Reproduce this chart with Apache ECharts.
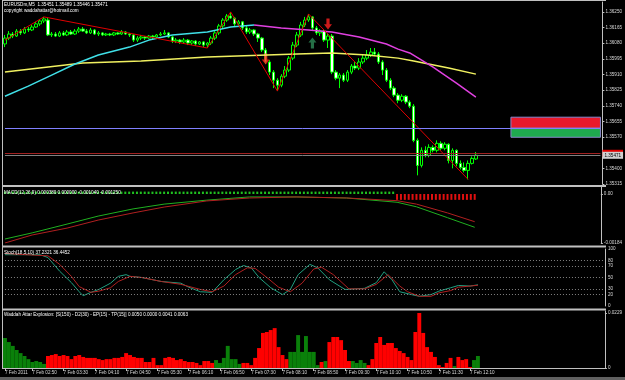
<!DOCTYPE html>
<html><head><meta charset="utf-8">
<script src="https://cdn.jsdelivr.net/npm/echarts@6/dist/echarts.min.js"></script>
<style>html,body{margin:0;padding:0;background:#000;}#c{width:625px;height:380px;}</style>
</head><body><div id="c"></div>
<script>
// ---------- DATA ----------
const timeLabelIndex = [0,7,15,23,31,39,47,55,63,71,79,87,95,103,111,119];
const timeLabelText = ['7 Feb 2011','7 Feb 02:50','7 Feb 03:30','7 Feb 04:10','7 Feb 04:50','7 Feb 05:30','7 Feb 06:10','7 Feb 06:50','7 Feb 07:30','7 Feb 08:10','7 Feb 08:50','7 Feb 09:30','7 Feb 10:10','7 Feb 10:50','7 Feb 11:30','7 Feb 12:10'];
// [open, close, low, high]
const candles = [
[1.36076,1.36108,1.36059,1.36125],[1.36108,1.36130,1.36097,1.36146],[1.36130,1.36119,1.36108,1.36141],[1.36119,1.36146,1.36114,1.36157],
[1.36146,1.36136,1.36125,1.36157],[1.36136,1.36157,1.36130,1.36168],[1.36157,1.36152,1.36141,1.36168],[1.36152,1.36168,1.36146,1.36179],
[1.36168,1.36185,1.36163,1.36196],[1.36185,1.36201,1.36174,1.36212],[1.36201,1.36212,1.36190,1.36223],[1.36206,1.36125,1.36119,1.36217],
[1.36125,1.36130,1.36114,1.36141],[1.36130,1.36119,1.36114,1.36141],[1.36119,1.36136,1.36114,1.36146],[1.36136,1.36125,1.36119,1.36146],
[1.36125,1.36141,1.36119,1.36152],[1.36141,1.36130,1.36125,1.36152],[1.36130,1.36146,1.36125,1.36157],[1.36146,1.36157,1.36136,1.36168],
[1.36157,1.36146,1.36141,1.36168],[1.36146,1.36136,1.36130,1.36157],[1.36136,1.36152,1.36130,1.36163],[1.36152,1.36130,1.36125,1.36157],
[1.36130,1.36136,1.36119,1.36146],[1.36136,1.36125,1.36119,1.36141],[1.36125,1.36130,1.36119,1.36136],[1.36130,1.36125,1.36119,1.36136],
[1.36125,1.36136,1.36119,1.36141],[1.36136,1.36130,1.36125,1.36141],[1.36130,1.36141,1.36125,1.36152],[1.36141,1.36130,1.36125,1.36146],
[1.36130,1.36125,1.36114,1.36136],[1.36125,1.36097,1.36087,1.36130],[1.36097,1.36108,1.36087,1.36119],[1.36108,1.36114,1.36097,1.36125],
[1.36114,1.36108,1.36097,1.36119],[1.36108,1.36119,1.36103,1.36125],[1.36119,1.36114,1.36103,1.36125],[1.36114,1.36125,1.36108,1.36130],
[1.36125,1.36130,1.36119,1.36141],[1.36130,1.36136,1.36125,1.36152],[1.36136,1.36114,1.36108,1.36141],[1.36114,1.36092,1.36081,1.36119],
[1.36092,1.36097,1.36081,1.36108],[1.36097,1.36087,1.36076,1.36103],[1.36087,1.36097,1.36076,1.36108],[1.36097,1.36081,1.36070,1.36103],
[1.36081,1.36092,1.36070,1.36097],[1.36092,1.36076,1.36065,1.36097],[1.36076,1.36087,1.36070,1.36092],[1.36087,1.36070,1.36059,1.36092],
[1.36070,1.36081,1.36054,1.36087],[1.36081,1.36108,1.36070,1.36119],[1.36108,1.36136,1.36097,1.36146],[1.36136,1.36174,1.36125,1.36185],
[1.36174,1.36206,1.36163,1.36217],[1.36206,1.36228,1.36196,1.36239],[1.36228,1.36217,1.36212,1.36250],[1.36217,1.36185,1.36174,1.36223],
[1.36185,1.36196,1.36168,1.36206],[1.36196,1.36163,1.36152,1.36201],[1.36163,1.36141,1.36130,1.36174],[1.36141,1.36152,1.36130,1.36163],
[1.36152,1.36130,1.36119,1.36157],[1.36130,1.36108,1.36087,1.36136],[1.36108,1.36043,1.36032,1.36114],[1.36043,1.35978,1.35967,1.36054],
[1.35978,1.35923,1.35907,1.35988],[1.35923,1.35879,1.35836,1.35934],[1.35879,1.35852,1.35820,1.35890],[1.35852,1.35901,1.35841,1.35912],
[1.35901,1.35934,1.35890,1.35956],[1.35934,1.35999,1.35923,1.36010],[1.35999,1.36070,1.35988,1.36087],[1.36070,1.36125,1.36059,1.36141],
[1.36125,1.36179,1.36114,1.36196],[1.36179,1.36206,1.36168,1.36223],[1.36206,1.36223,1.36196,1.36239],[1.36223,1.36163,1.36152,1.36228],
[1.36163,1.36136,1.36125,1.36174],[1.36136,1.36146,1.36119,1.36157],[1.36146,1.36097,1.36087,1.36152],[1.36097,1.36119,1.36054,1.36130],
[1.36119,1.35923,1.35912,1.36130],[1.35923,1.35890,1.35879,1.35934],[1.35890,1.35907,1.35836,1.35918],[1.35907,1.35879,1.35869,1.35918],
[1.35879,1.35923,1.35869,1.35934],[1.35923,1.35956,1.35912,1.35967],[1.35956,1.35945,1.35934,1.35978],[1.35945,1.35978,1.35934,1.35999],
[1.35978,1.35999,1.35967,1.36016],[1.35999,1.36016,1.35988,1.36043],[1.36016,1.36032,1.36005,1.36054],[1.36032,1.36021,1.36010,1.36054],
[1.36021,1.35978,1.35967,1.36032],[1.35978,1.35934,1.35907,1.35988],[1.35934,1.35879,1.35869,1.35945],[1.35879,1.35836,1.35825,1.35890],
[1.35836,1.35798,1.35787,1.35847],[1.35798,1.35770,1.35754,1.35809],[1.35770,1.35792,1.35760,1.35803],[1.35792,1.35760,1.35749,1.35798],
[1.35760,1.35738,1.35727,1.35770],[1.35738,1.35552,1.35542,1.35749],[1.35552,1.35416,1.35362,1.35563],[1.35416,1.35498,1.35405,1.35514],
[1.35498,1.35471,1.35460,1.35520],[1.35471,1.35514,1.35460,1.35531],[1.35514,1.35498,1.35487,1.35525],[1.35498,1.35536,1.35487,1.35552],
[1.35536,1.35509,1.35498,1.35547],[1.35509,1.35531,1.35498,1.35542],[1.35531,1.35443,1.35427,1.35536],[1.35443,1.35498,1.35400,1.35509],
[1.35498,1.35427,1.35411,1.35503],[1.35427,1.35405,1.35394,1.35443],[1.35405,1.35389,1.35378,1.35432],[1.35389,1.35427,1.35340,1.35443],
[1.35427,1.35454,1.35421,1.35465],[1.35451,1.35471,1.35446,1.35489]
];
const maCyan = [[0,1.35792],[6,1.35847],[12,1.35907],[18,1.35967],[24,1.36016],[32,1.36059],[37,1.36097],[43,1.36125],[52,1.36141],[58,1.36168],[64,1.36179]];
const maMagenta = [[64,1.36179],[71,1.36163],[78,1.36152],[84,1.36141],[91,1.36114],[98,1.36076],[101,1.36048],[104,1.36027],[110,1.35950],[116,1.35863],[121,1.35787]];
const maYellow = [[0,1.35923],[20,1.35972],[35,1.35983],[52,1.36005],[75,1.36021],[84,1.36027],[93,1.36016],[101,1.35999],[105,1.35983],[114,1.35945],[121,1.35912]];
const zigzag = [[0,1.36097],[10,1.36223],[52,1.36054],[58,1.36250],[70,1.35820],[78,1.36239],[119,1.35340]];
const arrowsDown = [[67,1.35994],[83,1.36185]];
const arrowsUp = [[79,1.36081]];
const levelBlue = 1.35618, levelRed = 1.35482, bidPrice = 1.35471;
const boxRed = [1.35678, 1.35618], boxGreen = [1.35618, 1.35569], boxFrom = 130;
const macdMain = [[0,-0.00169],[7,-0.00146],[16,-0.00113],[24,-0.00083],[33,-0.00056],[41,-0.00038],[52,-0.00023],[63,-0.00011],[75,-0.00011],[88,-0.00015],[101,-0.00031],[106,-0.00048],[114,-0.00089],[121,-0.00125]];
const macdSignal = [[0,-0.00184],[7,-0.00154],[16,-0.00128],[24,-0.00098],[33,-0.00071],[41,-0.00049],[52,-0.00026],[63,-0.00015],[75,-0.00011],[88,-0.00015],[101,-0.00025],[106,-0.00038],[114,-0.00071],[121,-0.00104]];
const macdHistUp = 0.00009, macdHistDown = -0.00022, macdHistSwitch = 101;
const stochMain = [[0,90],[9,90],[11,85],[14,61],[17,41],[19,25],[20,18],[22,24],[24,29],[27,40],[29,52],[31,55],[32,52],[35,50],[40,43],[45,40],[47,33],[50,25],[53,24],[56,46],[59,64],[61,71],[63,67],[65,50],[68,32],[71,20],[73,29],[75,55],[78,73],[80,67],[83,46],[87,29],[92,31],[95,41],[97,60],[99,46],[101,25],[104,20],[106,17],[109,20],[111,26],[114,32],[116,36],[119,35],[121,37.2]];
const stochSignal = [[0,92],[11,88],[14,73],[17,52],[19,34],[22,24],[24,26],[27,32],[29,43],[32,52],[35,50],[40,43],[45,38],[50,29],[53,25],[56,35],[59,55],[62,67],[64,66],[67,50],[70,33],[73,25],[76,40],[79,65],[81,68],[84,55],[88,30],[92,30],[95,38],[98,55],[101,35],[103,25],[106,17],[109,17],[111,23],[114,27],[116,33],[119,35],[121,36.4]];
const stochLevels = [80,70,50,30,20];
// Waddah Attar trend: positive = up (green), negative = down (red)
const waeTrend = [0.0125,0.0108,0.0092,0.0075,0.0062,0.0050,0.0037,0.0025,0.0029,0.0025,0.0017,
-0.0050,-0.0054,-0.0058,-0.0050,-0.0054,-0.0050,-0.0037,-0.0050,-0.0054,-0.0046,-0.0042,-0.0042,-0.0042,-0.0037,-0.0033,-0.0037,-0.0037,-0.0042,-0.0042,-0.0046,
-0.0062,-0.0054,-0.0046,-0.0042,-0.0042,-0.0025,-0.0025,-0.0042,-0.0012,-0.0012,-0.0042,-0.0046,-0.0042,-0.0033,-0.0037,-0.0029,-0.0025,-0.0025,-0.0021,-0.0012,
-0.0029,-0.0029,-0.0021,0.0033,0.0021,0.0042,0.0092,0.0037,0.0037,0.0017,-0.0021,-0.0021,-0.0012,-0.0042,-0.0083,-0.0146,-0.0150,-0.0158,-0.0166,-0.0087,
-0.0054,-0.0037,0.0067,0.0067,0.0137,0.0067,0.0133,0.0067,0.0067,0.0012,-0.0025,0.0029,-0.0108,-0.0129,-0.0129,-0.0116,-0.0075,-0.0029,0.0029,0.0021,
0.0033,0.0021,-0.0012,-0.0037,-0.0104,-0.0129,-0.0096,-0.0104,-0.0104,-0.0083,-0.0071,-0.0062,-0.0046,-0.0033,-0.0150,-0.0229,-0.0146,-0.0087,-0.0067,-0.0046,
-0.0012,-0.0004,-0.0021,-0.0042,0.0008,-0.0046,-0.0033,-0.0037,-0.0004,0.0033,0.0050];

// ---------- BUILD ----------
const SLOTS = 154;
const cats = []; for (let i = 0; i < SLOTS; i++) cats.push(String(i));
const macdHist = candles.map((c, i) => i < macdHistSwitch ? macdHistUp : macdHistDown);
const waeUp = waeTrend.map(v => v > 0 ? v : '-');
const waeDn = waeTrend.map(v => v < 0 ? -v : '-');
const F = 'Liberation Sans';
const TXT = '#d8d8d8';
const labelIdxSet = new Set(timeLabelIndex);
const grids = [
  {left:3, width:602, top:2, height:182},
  {left:3, width:602, top:187, height:56},
  {left:3, width:602, top:249, height:57},
  {left:3, width:602, top:311, height:57}
];
function xa(g){
  const o = {type:'category', gridIndex:g, data:cats, boundaryGap:true,
    axisLine:{show:false}, axisTick:{show:false}, axisLabel:{show:false}, splitLine:{show:false}};
  if (g === 3) {
    o.axisTick = {show:true, alignWithLabel:true, length:3, interval:(i)=>labelIdxSet.has(i), lineStyle:{color:'#c0c0c0'}};
    o.axisLabel = {show:true, interval:(i)=>labelIdxSet.has(i), align:'left', margin:2, fontSize:4.6, fontFamily:F, color:TXT,
      formatter:(v)=> timeLabelText[timeLabelIndex.indexOf(Number(v))] || ''};
  }
  return o;
}
const yBase = {type:'value', position:'right', splitLine:{show:false},
  axisLine:{show:true, lineStyle:{color:'#c0c0c0'}}, axisTick:{show:true, length:2, lineStyle:{color:'#c0c0c0'}}};
const yAxes = [
  Object.assign({}, yBase, {gridIndex:0, min:1.35315, max:1.36304, interval:0.00085,
    axisLabel:{fontSize:4.6, fontFamily:F, color:TXT, margin:3, showMaxLabel:false,
      formatter:v => Math.abs(v - 1.35485) < 1e-6 ? '' : v.toFixed(5)}}),
  Object.assign({}, yBase, {gridIndex:1, min:-0.00184, max:0.000263, interval:0.00184,
    axisLabel:{fontSize:4.6, fontFamily:F, color:TXT, margin:3, showMaxLabel:false,
      formatter:v => Math.abs(v) < 1e-9 ? '0.00' : v.toFixed(5)}}),
  Object.assign({}, yBase, {gridIndex:2, min:0, max:100, interval:10, axisTick:{show:false},
    axisLabel:{fontSize:4.6, fontFamily:F, color:TXT, margin:3,
      formatter:v => [0,20,30,50,70,80,100].includes(Math.round(v)) ? String(Math.round(v)) : ''}}),
  Object.assign({}, yBase, {gridIndex:3, min:0, max:0.02373, interval:0.0229,
    axisLabel:{fontSize:4.6, fontFamily:F, color:TXT, margin:3, showMaxLabel:false,
      formatter:v => v === 0 ? '0' : v.toFixed(4)}})
];
const downArrow = 'path://M3,0L7,0L7,7L10,7L5,13L0,7L3,7Z';
const upArrow = 'path://M5,0L10,6L7,6L7,13L3,13L3,6L0,6Z';
const ts = (c)=>({color:c, fontSize:4.6, fontFamily:F, fontWeight:'normal'});
const hLine = (v, color, label) => [
  {coord:[0, v], lineStyle:{color:color, width:1, type:'solid'}, label: label || {show:false}},
  {coord:[SLOTS-1, v]}
];
const lvlLabel = (txt, bg, fg)=>({show:true, position:'end', formatter:txt, color:fg, backgroundColor:bg, fontSize:4.6, fontFamily:F, padding:[1,2], distance:2});
const option = {
  backgroundColor:'#000',
  animation:false,
  title:[
    {text:'EURUSDm,M5  1.35451 1.35489 1.35446 1.35471', left:4, top:2, padding:0, textStyle:ts('#ffffff')},
    {text:'copyright waddahattar@hotmail.com', left:4, top:8, padding:0, textStyle:ts('#ffffff')},
    {text:'MACD(12,26,9) 0.000380 0.000000 -0.001040 -0.001250', left:4, top:190, padding:0, textStyle:ts('#ffffff')},
    {text:'Stoch(18,5,10) 37.2321 36.4452', left:4, top:250, padding:0, textStyle:ts('#ffffff')},
    {text:'Waddah Attar Explosion: [S(150) - D2(30) - EP(15) - TP(15)] 0.0050 0.0000 0.0041 0.0063', left:4, top:312, padding:0, textStyle:ts('#ffffff')}
  ],
  grid:grids,
  xAxis:[xa(0),xa(1),xa(2),xa(3)],
  yAxis:yAxes,
  graphic:[
    {type:'rect', shape:{x:2,y:0,width:604,height:1}, style:{fill:'#c0c0c0'}},
    {type:'rect', shape:{x:2,y:185,width:604,height:2}, style:{fill:'#c0c0c0'}},
    {type:'rect', shape:{x:2,y:245.5,width:604,height:2}, style:{fill:'#c0c0c0'}},
    {type:'rect', shape:{x:2,y:308.5,width:604,height:2}, style:{fill:'#c0c0c0'}},
    {type:'rect', shape:{x:2,y:368,width:604,height:1}, style:{fill:'#c0c0c0'}},
    {type:'rect', shape:{x:2,y:0,width:1,height:369}, style:{fill:'#c0c0c0'}},
    {type:'rect', shape:{x:0,y:377,width:625,height:3}, style:{fill:'#606060'}}
  ],
  series:[
    {type:'candlestick', xAxisIndex:0, yAxisIndex:0, data:candles, barWidth:3,
      itemStyle:{color:'#000000', color0:'#ffffff', borderColor:'#00ff00', borderColor0:'#00ff00', borderWidth:1},
      markArea:{silent:true,
        data:[
          [{xAxis:boxFrom, yAxis:boxRed[0], itemStyle:{color:'#e8192c', borderColor:'#8888cc', borderWidth:1}}, {xAxis:SLOTS-1, yAxis:boxRed[1]}],
          [{xAxis:boxFrom, yAxis:boxGreen[0], itemStyle:{color:'#1faa4f', borderColor:'#8888cc', borderWidth:1}}, {xAxis:SLOTS-1, yAxis:boxGreen[1]}]
        ]}
    },
    {type:'line', xAxisIndex:0, yAxisIndex:0, data:maYellow, symbol:'none', lineStyle:{color:'#f0f060', width:1.5}},
    {type:'line', xAxisIndex:0, yAxisIndex:0, data:maCyan, symbol:'none', lineStyle:{color:'#40e0e8', width:1.5}},
    {type:'line', xAxisIndex:0, yAxisIndex:0, data:maMagenta, symbol:'none', lineStyle:{color:'#e040e0', width:1.5}},
    {type:'line', xAxisIndex:0, yAxisIndex:0, data:zigzag, symbol:'none', lineStyle:{color:'#e00000', width:1},
      markLine:{silent:true, symbol:'none', animation:false,
        data:[
          hLine(levelBlue, '#8080ff'),
          hLine(levelRed, '#a02020', lvlLabel('1.35482', '#e00000', '#e00000')),
          hLine(bidPrice, '#808080', lvlLabel('1.35471', '#d0d0d0', '#000000'))
        ]}},
    {type:'scatter', xAxisIndex:0, yAxisIndex:0, data:arrowsDown, symbol:downArrow, symbolSize:[8,11], itemStyle:{color:'#ff2020'}},
    {type:'scatter', xAxisIndex:0, yAxisIndex:0, data:arrowsUp, symbol:upArrow, symbolSize:[8,11], itemStyle:{color:'#2e8b57'}},
    // MACD
    {type:'bar', xAxisIndex:1, yAxisIndex:1, data:macdHist, barWidth:2,
      itemStyle:{color:(p)=> p.value >= 0 ? '#20c020' : '#e01010'}},
    {type:'line', xAxisIndex:1, yAxisIndex:1, data:macdMain, symbol:'none', lineStyle:{color:'#20b020', width:1}},
    {type:'line', xAxisIndex:1, yAxisIndex:1, data:macdSignal, symbol:'none', lineStyle:{color:'#b02020', width:1}},
    // Stochastic
    {type:'line', xAxisIndex:2, yAxisIndex:2, data:stochMain, symbol:'none', lineStyle:{color:'#20a080', width:1},
      markLine:{silent:true, symbol:'none', data:stochLevels.map(v=>[{coord:[0,v], lineStyle:{color:'#808080', type:[1,2], width:1}, label:{show:false}},{coord:[SLOTS-1,v]}])}},
    {type:'line', xAxisIndex:2, yAxisIndex:2, data:stochSignal, symbol:'none', lineStyle:{color:'#b02020', width:1}},
    // WAE
    {type:'bar', xAxisIndex:3, yAxisIndex:3, data:waeUp, stack:'wae', barCategoryGap:0, barWidth:'100%', itemStyle:{color:'#0a800a'}},
    {type:'bar', xAxisIndex:3, yAxisIndex:3, data:waeDn, stack:'wae', barCategoryGap:0, barWidth:'100%', itemStyle:{color:'#ff0000'}}
  ]
};
const chart = echarts.init(document.getElementById('c'), null, {renderer:'canvas'});
chart.setOption(option);
</script>
</body></html>
